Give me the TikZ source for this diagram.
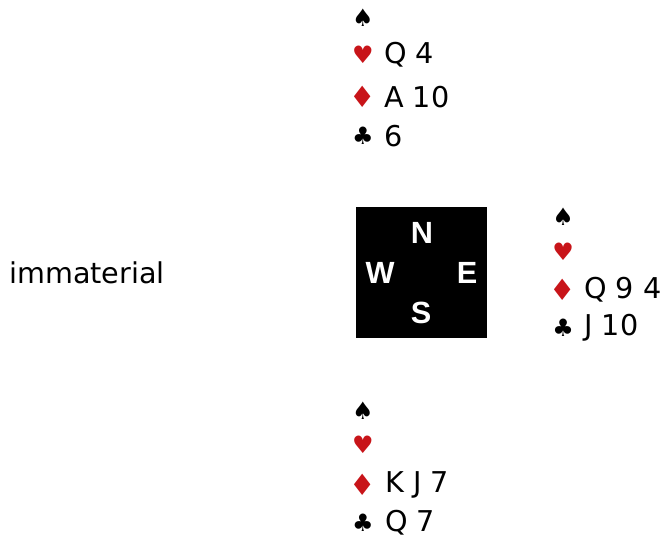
\documentclass[tikz,border=0pt]{standalone}
\usepackage{fontspec}
\setmainfont{DejaVu Sans}
\newfontfamily\boldsans{Liberation Sans}
\definecolor{suitred}{RGB}{200,20,25}
\tikzset{
  suit/.style={inner sep=0pt, anchor=center, font=\fontsize{18}{18}\selectfont},
  redsuit/.style={suit, text=suitred},
  diam/.style={redsuit, font=\fontsize{22}{22}\selectfont},
  cards/.style={inner sep=0pt, anchor=west, font=\fontsize{21.5}{21.5}\selectfont},
  dir/.style={inner sep=0pt, anchor=center, text=white, font=\boldsans\bfseries\fontsize{23}{23}\selectfont},
}
\begin{document}
\begin{tikzpicture}[x=0.75pt,y=-0.75pt]
\useasboundingbox (0,0) rectangle (666,538);
% North
\node[suit] (ns) at (363,18) {♠};
\node[redsuit] (nh) at (363,55) {♥};
\node[cards] (nht) at (384,55) {Q 4};
\node[diam] (nd) at (363,97) {♦};
\node[cards] (ndt) at (384,97) {A 10};
\node[suit] (nc) at (363,136) {♣};
\node[cards] (nct) at (384,136) {6};
% compass
\node[fill=black, minimum width=131*0.75pt, minimum height=131*0.75pt, inner sep=0pt] (box) at (421.5,272.5) {};
\node[dir] (dn) at (422,233) {N};
\node[dir] (dw) at (380,273) {W};
\node[dir] (de) at (467,273) {E};
\node[dir] (ds) at (421,313) {S};
% West
\node[cards] (west) at (9,273) {immaterial};
% East
\node[suit] (es) at (563,217) {♠};
\node[redsuit] (eh) at (563,252) {♥};
\node[diam] (ed) at (563,290) {♦};
\node[cards] (edt) at (584,290) {Q 9 4};
\node[suit] (ec) at (563,328) {♣};
\node[cards] (ect) at (584,328) {J 10};
% South
\node[suit] (ss) at (363,411) {♠};
\node[redsuit] (sh) at (363,445) {♥};
\node[diam] (sd) at (363,485) {♦};
\node[cards] (sdt) at (385,485) {K J 7};
\node[suit] (sc) at (363,523) {♣};
\node[cards] (sct) at (385,523) {Q 7};
\end{tikzpicture}
\end{document}
